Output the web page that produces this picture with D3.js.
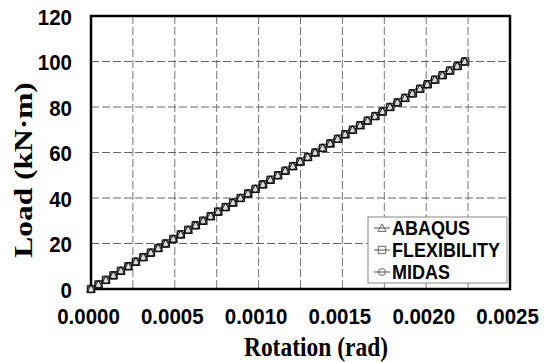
<!DOCTYPE html>
<html>
<head>
<meta charset="utf-8">
<script src="https://cdn.jsdelivr.net/npm/d3@7"></script>
<style>
  html, body { margin: 0; padding: 0; background: #fff; }
  svg { display: block; }
</style>
</head>
<body>
<svg id="chart" width="550" height="362"></svg>
<script>
// Load steps (kN·m)
const loads = [0, 2, 4, 6, 8, 10, 12, 14, 16, 18, 20, 22, 24, 26, 28, 30, 32, 34, 36, 38, 40,
  42, 44, 46, 48, 50, 52, 54, 56, 58, 60, 62, 64, 66, 68, 70, 72, 74, 76, 78, 80,
  82, 84, 86, 88, 90, 92, 94, 96, 98, 100];

// Rotation (rad) for each model
const abaqusRot = [0, 0.0000446, 0.0000892, 0.0001338, 0.0001784, 0.000223, 0.0002676, 0.0003122,
  0.0003568, 0.0004014, 0.000446, 0.0004906, 0.0005352, 0.0005798, 0.0006244, 0.000669,
  0.0007136, 0.0007582, 0.0008028, 0.0008474, 0.000892, 0.0009366, 0.0009812, 0.0010258,
  0.0010704, 0.001115, 0.0011596, 0.0012042, 0.0012488, 0.0012934, 0.001338, 0.0013826,
  0.0014272, 0.0014718, 0.0015164, 0.001561, 0.0016056, 0.0016502, 0.0016948, 0.0017394,
  0.001784, 0.0018286, 0.0018732, 0.0019178, 0.0019624, 0.002007, 0.0020516, 0.0020962,
  0.0021408, 0.0021854, 0.00223];
const flexibilityRot = [0, 0.0000447, 0.0000893, 0.000134, 0.0001786, 0.0002233, 0.0002679, 0.0003126,
  0.0003572, 0.0004019, 0.0004465, 0.0004912, 0.0005358, 0.0005805, 0.0006251, 0.0006698,
  0.0007144, 0.0007591, 0.0008037, 0.0008484, 0.000893, 0.0009377, 0.0009823, 0.001027,
  0.0010716, 0.0011163, 0.0011609, 0.0012056, 0.0012502, 0.0012949, 0.0013395, 0.0013842,
  0.0014288, 0.0014735, 0.0015181, 0.0015628, 0.0016074, 0.0016521, 0.0016967, 0.0017414,
  0.001786, 0.0018307, 0.0018753, 0.00192, 0.0019646, 0.0020093, 0.0020539, 0.0020986,
  0.0021432, 0.0021879, 0.0022325];
const midasRot = [0, 0.0000445, 0.000089, 0.0001336, 0.0001781, 0.0002226, 0.0002671, 0.0003117,
  0.0003562, 0.0004007, 0.0004452, 0.0004897, 0.0005343, 0.0005788, 0.0006233, 0.0006678,
  0.0007124, 0.0007569, 0.0008014, 0.0008459, 0.0008904, 0.000935, 0.0009795, 0.001024,
  0.0010685, 0.001113, 0.0011576, 0.0012021, 0.0012466, 0.0012911, 0.0013357, 0.0013802,
  0.0014247, 0.0014692, 0.0015138, 0.0015583, 0.0016028, 0.0016473, 0.0016918, 0.0017364,
  0.0017809, 0.0018254, 0.0018699, 0.0019145, 0.001959, 0.0020035, 0.002048, 0.0020926,
  0.0021371, 0.0021816, 0.0022261];

const seriesNames = ["ABAQUS", "FLEXIBILITY", "MIDAS"];
const seriesRot = [abaqusRot, flexibilityRot, midasRot];
const seriesMarker = ["triangle", "square", "circle"];

const xTicks = [0, 0.0005, 0.001, 0.0015, 0.002, 0.0025];
const xGrid = [0.00025, 0.0005, 0.00075, 0.001, 0.00125, 0.0015, 0.00175, 0.002, 0.00225];
const yTicks = [0, 20, 40, 60, 80, 100, 120];

const svg = d3.select("#chart");
const plot = { left: 91, right: 510, top: 16, bottom: 289 };
const SY = 1.1; // vertical stretch of lettering

const x = d3.scaleLinear().domain([0, 0.0025]).range([plot.left, plot.right]);
const y = d3.scaleLinear().domain([0, 120]).range([plot.bottom, plot.top]);

// Grid
const grid = svg.append("g");
grid.selectAll("line.v").data(xGrid).join("line")
  .attr("x1", d => x(d)).attr("x2", d => x(d))
  .attr("y1", plot.top).attr("y2", plot.bottom)
  .attr("stroke", "#777").attr("stroke-width", 1).attr("stroke-dasharray", "8,3");
grid.selectAll("line.h").data(yTicks.filter(d => d > 0 && d < 120)).join("line")
  .attr("x1", plot.left).attr("x2", plot.right)
  .attr("y1", d => y(d)).attr("y2", d => y(d))
  .attr("stroke", "#666").attr("stroke-width", 1).attr("stroke-dasharray", "8,3");

// Plot frame
svg.append("rect")
  .attr("x", plot.left).attr("y", plot.top)
  .attr("width", plot.right - plot.left).attr("height", plot.bottom - plot.top)
  .attr("fill", "none").attr("stroke", "#000").attr("stroke-width", 2.5);

// Axis tick labels
const xAxis = d3.axisBottom(x).tickValues(xTicks).tickFormat(d3.format(".4f")).tickSize(0).tickPadding(0);
const gx = svg.append("g").attr("transform", `translate(0,${plot.bottom})`).call(xAxis);
gx.select(".domain").remove();
gx.selectAll("text")
  .attr("y", 0).attr("dy", null)
  .attr("transform", `translate(-3,35) scale(1,${SY})`)
  .style("font-family", "'Liberation Sans', Arial, sans-serif")
  .style("font-weight", "bold").style("font-size", "20.5px").attr("fill", "#000");

const yAxis = d3.axisLeft(y).tickValues(yTicks).tickFormat(d3.format("d")).tickSize(0).tickPadding(0);
const gy = svg.append("g").attr("transform", `translate(72,0)`).call(yAxis);
gy.select(".domain").remove();
gy.selectAll(".tick text")
  .attr("x", 0).attr("dy", null).attr("y", 0)
  .attr("transform", `translate(0,8) scale(1,${SY})`)
  .style("font-family", "'Liberation Sans', Arial, sans-serif")
  .style("font-weight", "bold").style("font-size", "20.5px").attr("fill", "#000");

// Axis titles
svg.append("text")
  .attr("transform", `translate(316,356) scale(1,1.12)`)
  .attr("text-anchor", "middle")
  .style("font-family", "'Liberation Serif', 'Times New Roman', serif")
  .style("font-weight", "bold").style("font-size", "23.5px")
  .text("Rotation (rad)");
svg.append("text")
  .attr("transform", `translate(32,170) scale(1,1.21) rotate(-90)`)
  .attr("text-anchor", "middle")
  .style("font-family", "'Liberation Serif', 'Times New Roman', serif")
  .style("font-weight", "bold").style("font-size", "26px")
  .text("Load (kN·m)");

// Marker shapes
function markerPath(type) {
  if (type === "triangle") return "M0,-4.2L4.2,3.4L-4.2,3.4Z";
  if (type === "square") return "M-3.7,-3.7H3.7V3.7H-3.7Z";
  return d3.symbol(d3.symbolCircle, 38)();
}
const markerFill = { triangle: "none", square: "#d9d9d9", circle: "none" };

// Series lines and markers (square drawn beneath, open symbols over)
const line = d3.line().x(d => x(d[0])).y(d => y(d[1]));
const drawOrder = [1, 0, 2];
drawOrder.forEach(i => {
  const pts = seriesRot[i].map((r, k) => [r, loads[k]]);
  svg.append("path").datum(pts).attr("d", line)
    .attr("fill", "none").attr("stroke", "#000").attr("stroke-width", 1.3);
});
drawOrder.forEach(i => {
  const pts = seriesRot[i].map((r, k) => [r, loads[k]]);
  svg.append("g").selectAll("path").data(pts).join("path")
    .attr("transform", d => `translate(${x(d[0])},${y(d[1])})`)
    .attr("d", markerPath(seriesMarker[i]))
    .attr("fill", markerFill[seriesMarker[i]])
    .attr("stroke", "#111").attr("stroke-width", 1);
});

// Legend
const lg = svg.append("g").attr("transform", "translate(368,217)");
lg.append("rect").attr("width", 139).attr("height", 66)
  .attr("fill", "#fff").attr("stroke", "#888").attr("stroke-width", 1);
seriesNames.forEach((name, i) => {
  const cy = 11 + i * 22;
  const row = lg.append("g");
  row.append("line").attr("x1", 6).attr("x2", 22).attr("y1", cy).attr("y2", cy)
    .attr("stroke", "#555").attr("stroke-width", 1);
  row.append("path").attr("transform", `translate(14,${cy})`)
    .attr("d", markerPath(seriesMarker[i]))
    .attr("fill", "none").attr("stroke", "#555").attr("stroke-width", 0.9);
  row.append("text")
    .attr("transform", `translate(24,${cy + 7}) scale(1,1.15)`)
    .style("font-family", "'Liberation Sans', Arial, sans-serif")
    .style("font-weight", "bold").style("font-size", "18px")
    .text(name);
});
</script>
</body>
</html>
